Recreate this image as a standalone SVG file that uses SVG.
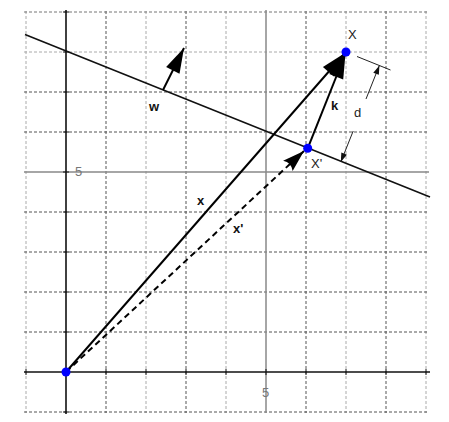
<svg xmlns="http://www.w3.org/2000/svg" width="449" height="422" viewBox="0 0 449 422">
<style>
  .gd { stroke:#555; stroke-width:1; stroke-dasharray:3 2; fill:none; }
  .gl { stroke:#aaa; stroke-width:1; stroke-dasharray:3 2; fill:none; }
  .g5 { stroke:#888; stroke-width:1.5; fill:none; }
  .ax { stroke:#111; stroke-width:1.6; fill:none; }
  .tk { stroke:#111; stroke-width:1; }
  .vec { stroke:#000; stroke-width:2; fill:none; }
  .dash { stroke:#000; stroke-width:2; stroke-dasharray:6 4; fill:none; }
  .thin { stroke:#222; stroke-width:1; fill:none; }
  .pt { fill:#0000ff; }
  text { font-family:"Liberation Sans", Arial, sans-serif; font-size:13px; fill:#222; }
  .b { font-weight:bold; fill:#111; }
  .num { fill:#777; }
</style>
<defs>
  <marker id="big" markerUnits="userSpaceOnUse" viewBox="-26 -9 28 18" refX="0" refY="0" markerWidth="28" markerHeight="18" orient="auto">
    <path d="M0,0 L-25,-7.5 L-25,7.5 Z" fill="#000"/>
  </marker>
  <marker id="notch" markerUnits="userSpaceOnUse" viewBox="-26 -9 28 18" refX="0" refY="0" markerWidth="28" markerHeight="18" orient="auto">
    <path d="M0,0 L-22,-7 Q-17,0 -22,7 Z" fill="#000"/>
  </marker>
  <marker id="small" markerUnits="userSpaceOnUse" viewBox="-10 -4 11 8" refX="0" refY="0" markerWidth="11" markerHeight="8" orient="auto">
    <path d="M0,0 L-9,-3 L-9,3 Z" fill="#111"/>
  </marker>
</defs>

<g id="grid">
  <line class="gl" x1="26" y1="11" x2="26" y2="413"/>
  <line class="gd" x1="106" y1="11" x2="106" y2="413"/>
  <line class="gl" x1="146" y1="11" x2="146" y2="413"/>
  <line class="gd" x1="186" y1="11" x2="186" y2="413"/>
  <line class="gl" x1="226" y1="11" x2="226" y2="413"/>
  <line class="gd" x1="306" y1="11" x2="306" y2="413"/>
  <line class="gl" x1="346" y1="11" x2="346" y2="413"/>
  <line class="gd" x1="386" y1="11" x2="386" y2="413"/>
  <line class="gl" x1="426" y1="11" x2="426" y2="413"/>
  <line class="gd" style="stroke:#777" x1="24" y1="12" x2="428" y2="12"/>
  <line class="gl" x1="24" y1="52" x2="428" y2="52"/>
  <line class="gd" x1="24" y1="92" x2="428" y2="92"/>
  <line class="gd" x1="24" y1="132" x2="428" y2="132"/>
  <line class="gd" x1="24" y1="212" x2="428" y2="212"/>
  <line class="gd" x1="24" y1="252" x2="428" y2="252"/>
  <line class="gd" x1="24" y1="292" x2="428" y2="292"/>
  <line class="gd" x1="24" y1="332" x2="428" y2="332"/>
  <line class="gd" x1="24" y1="412" x2="428" y2="412"/>
  <line class="g5" x1="266" y1="10" x2="266" y2="413"/>
  <line class="g5" x1="24" y1="172" x2="429" y2="172"/>
</g>

<g id="axes">
  <line class="ax" x1="66" y1="10" x2="66" y2="414"/>
  <line class="ax" x1="24" y1="372" x2="430" y2="372"/>
  <path class="tk" d="M26,369v6 M106,369v6 M146,369v6 M186,369v6 M226,369v6 M266,369v6 M306,369v6 M346,369v6 M386,369v6 M426,369v6
    M63,12h6 M63,52h6 M63,92h6 M63,132h6 M63,172h6 M63,212h6 M63,252h6 M63,292h6 M63,332h6 M63,412h6"/>
  <text class="num" x="75" y="176">5</text>
  <text class="num" x="262" y="397">5</text>
</g>

<g id="hyperplane">
  <line stroke="#111" stroke-width="1.6" x1="25" y1="34.5" x2="430" y2="197"/>
</g>

<g id="connectors">
  <line id="vec-w" class="vec" x1="163" y1="90" x2="184" y2="48" marker-end="url(#big)"/>
  <line id="vec-x" class="vec" x1="66" y1="372" x2="345" y2="53" marker-end="url(#big)"/>
  <line id="vec-k" class="vec" x1="307.7" y1="148.3" x2="345.5" y2="53.5" marker-end="url(#big)"/>
  <line id="vec-xp" class="dash" x1="66" y1="372" x2="304" y2="151" marker-end="url(#notch)"/>
  <g id="dim-d">
    <line class="thin" x1="357" y1="56.5" x2="390.5" y2="70"/>
    <line class="thin" x1="366" y1="99" x2="379.4" y2="65.4" marker-end="url(#small)"/>
    <line class="thin" x1="353.2" y1="131" x2="340.8" y2="162" marker-end="url(#small)"/>
  </g>
</g>

<g id="points">
  <circle id="O" class="pt" cx="66" cy="372" r="4.5"/>
  <circle id="X" class="pt" cx="346" cy="52" r="4.5"/>
  <circle id="Xp" class="pt" cx="307.7" cy="148.3" r="4.5"/>
</g>

<g id="labels">
  <text x="348" y="39">X</text>
  <text x="311" y="168">X'</text>
  <text class="b" x="331" y="110">k</text>
  <text x="354" y="117">d</text>
  <text class="b" x="149" y="111">w</text>
  <text class="b" x="197" y="205">x</text>
  <text class="b" x="233" y="233">x'</text>
</g>
</svg>
